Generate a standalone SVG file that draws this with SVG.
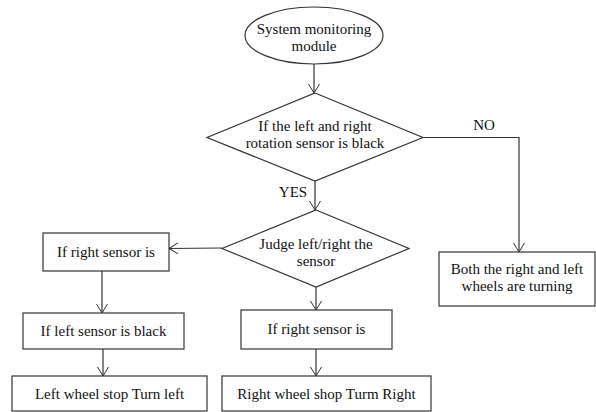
<svg xmlns="http://www.w3.org/2000/svg" width="596" height="412" viewBox="0 0 596 412" font-family="'Liberation Serif', 'Times New Roman', 'DejaVu Serif', serif">
<defs>
<marker id="arr" markerWidth="12" markerHeight="12" refX="10" refY="6" orient="auto" markerUnits="userSpaceOnUse">
<path d="M1,0.5 L10,6 L1,11.5" fill="none" stroke="#333" stroke-width="1"/>
</marker>
<style>
.shape{fill:#fff;stroke:#333;stroke-width:1.2}
.line{fill:none;stroke:#333;stroke-width:1.2}
.t{font-family:'Liberation Serif','Times New Roman',serif;font-size:15px;fill:#111;text-anchor:middle}
</style>
</defs>
<rect width="596" height="412" fill="#fff"/>
<g id="connectors">
<path class="line" d="M314,64 L314,93" marker-end="url(#arr)"/>
<path class="line" d="M315,181 L315,210" marker-end="url(#arr)"/>
<path class="line" d="M423,137.5 L519,137.5 L519,252" marker-end="url(#arr)"/>
<path class="line" d="M222,248 L169,248.5" marker-end="url(#arr)"/>
<path class="line" d="M316,287 L316,310" marker-end="url(#arr)"/>
<path class="line" d="M316,349 L316,376" marker-end="url(#arr)"/>
<path class="line" d="M102,271 L102,313" marker-end="url(#arr)"/>
<path class="line" d="M103,349 L103,376" marker-end="url(#arr)"/>
<text class="t" x="293" y="197">YES</text>
<text class="t" x="484" y="130">NO</text>
</g>
<g id="start">
<ellipse class="shape" cx="314" cy="35.5" rx="69" ry="28.5"/>
<text class="t" x="314" y="34">System monitoring</text>
<text class="t" x="314" y="51">module</text>
</g>
<g id="decision1">
<polygon class="shape" points="315,93 423,137.5 315,181 207,137.5"/>
<text class="t" x="315" y="131">If the left and right</text>
<text class="t" x="315" y="148">rotation sensor is black</text>
</g>
<g id="decision2">
<polygon class="shape" points="316,210 409,248.5 316,287 222,248.5"/>
<text class="t" x="316" y="249">Judge left/right the</text>
<text class="t" x="316" y="266">sensor</text>
</g>
<g id="left-right-sensor">
<rect class="shape" x="43" y="233" width="126" height="38"/>
<text class="t" x="106" y="257">If right sensor is</text>
</g>
<g id="left-sensor-black">
<rect class="shape" x="23" y="313" width="161" height="36"/>
<text class="t" x="103.5" y="336">If left sensor is black</text>
</g>
<g id="left-wheel-stop">
<rect class="shape" x="12" y="376" width="195" height="35"/>
<text class="t" x="109.5" y="399">Left wheel stop Turn left</text>
</g>
<g id="mid-right-sensor">
<rect class="shape" x="241" y="310" width="151" height="39"/>
<text class="t" x="316.5" y="334">If right sensor is</text>
</g>
<g id="right-wheel-stop">
<rect class="shape" x="222" y="376" width="209" height="35"/>
<text class="t" x="326.5" y="399">Right wheel shop Turm Right</text>
</g>
<g id="both-turning">
<rect class="shape" x="439" y="252" width="156" height="54"/>
<text class="t" x="517" y="274">Both the right and left</text>
<text class="t" x="517" y="291">wheels are turning</text>
</g>
</svg>
